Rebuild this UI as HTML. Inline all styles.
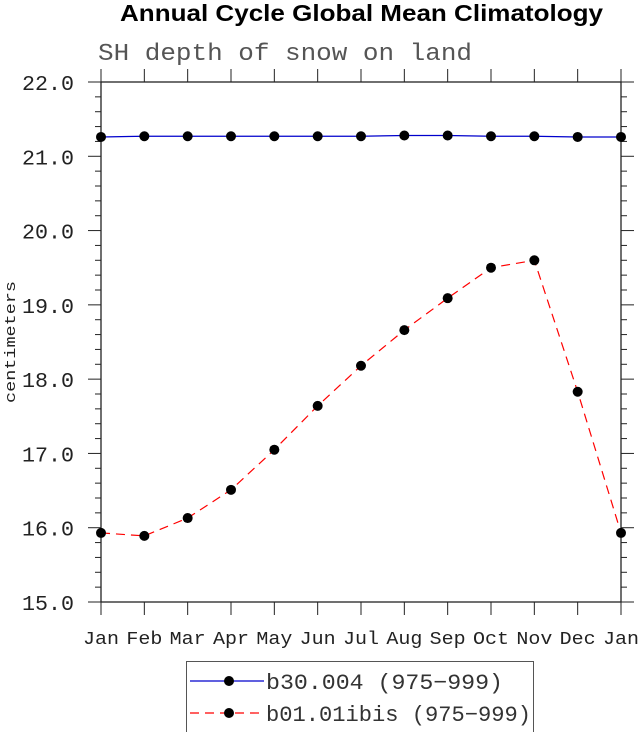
<!DOCTYPE html>
<html><head><meta charset="utf-8"><style>
body{margin:0;background:#fff;width:638px;height:732px;overflow:hidden}
svg text{font-family:"Liberation Mono",monospace;fill:#222}
</style></head><body>
<svg id="chart" width="638" height="732" xmlns="http://www.w3.org/2000/svg">
<text x="120" y="21" textLength="483" lengthAdjust="spacingAndGlyphs" style="font-family:'Liberation Sans',sans-serif;font-weight:bold;font-size:23px;fill:#000">Annual Cycle Global Mean Climatology</text>
<text x="98" y="60" textLength="374" lengthAdjust="spacingAndGlyphs" style="font-size:24px;fill:#555">SH depth of snow on land</text>
<text transform="translate(15,342) rotate(-90)" text-anchor="middle" textLength="122" lengthAdjust="spacingAndGlyphs" style="font-size:15px">centimeters</text>
<g id="axes"></g>
<g id="series"></g>
<g>
<rect x="186.5" y="661.5" width="347" height="75" fill="none" stroke="#555" stroke-width="1"/>
<line x1="190" y1="681" x2="264" y2="681" stroke="#00c" stroke-width="1.2"/>
<circle cx="229" cy="681" r="5" fill="#000"/>
<text x="266" y="689" textLength="237" lengthAdjust="spacingAndGlyphs" style="font-size:22px;fill:#333">b30.004 (975−999)</text>
<line x1="190" y1="713" x2="264" y2="713" stroke="#f00" stroke-width="1.2" stroke-dasharray="9,6"/>
<circle cx="229" cy="713" r="5" fill="#000"/>
<text x="266" y="721" textLength="265" lengthAdjust="spacingAndGlyphs" style="font-size:22px;fill:#333">b01.01ibis (975−999)</text>
</g>
</svg>
<script>
const months=["Jan","Feb","Mar","Apr","May","Jun","Jul","Aug","Sep","Oct","Nov","Dec","Jan"];
const b30=[21.26,21.27,21.27,21.27,21.27,21.27,21.27,21.28,21.28,21.27,21.27,21.26,21.26];
const b01=[15.93,15.89,16.13,16.51,17.05,17.64,18.18,18.66,19.09,19.50,19.60,17.83,15.93];
const yTicks=[15,16,17,18,19,20,21,22];
const NS="http://www.w3.org/2000/svg";
const L=101,R=621,T=82,B=602,yMin=15,yMax=22;
const xs=i=>L+(R-L)*i/(months.length-1);
const ys=v=>B-(v-yMin)/(yMax-yMin)*(B-T);
function mk(tag,a,p){const e=document.createElementNS(NS,tag);for(const k in a)e.setAttribute(k,a[k]);p.appendChild(e);return e;}
const ax=document.getElementById('axes'),se=document.getElementById('series');
const box=mk('rect',{x:L,y:T,width:R-L,height:B-T,fill:'none',stroke:'#222','stroke-width':1.3},ax);


months.forEach((m,i)=>{const x=xs(i);
mk('line',{x1:x,y1:B,x2:x,y2:B+13,stroke:'#222'},ax);
mk('line',{x1:x,y1:T,x2:x,y2:T-13,stroke:'#222'},ax);
const t=mk('text',{x:x,y:B+42,'text-anchor':'middle','font-size':18,textLength:36,lengthAdjust:'spacingAndGlyphs'},ax);t.textContent=m;

});
for(let v=yMin;v<=yMax+1e-9;v+=0.2){const y=ys(v);const maj=Math.abs(v-Math.round(v))<1e-6;const len=maj?13:6;
mk('line',{x1:L-len,y1:y,x2:L,y2:y,stroke:'#222'},ax);
mk('line',{x1:R,y1:y,x2:R+len,y2:y,stroke:'#222'},ax);}
yTicks.forEach(v=>{const t=mk('text',{x:22,y:ys(v)+8,'font-size':21,textLength:52,lengthAdjust:'spacingAndGlyphs'},ax);t.textContent=v.toFixed(1);

});
function series(d,color,dash,name){
const p=mk('polyline',{points:d.map((v,i)=>xs(i)+','+ys(v)).join(' '),fill:'none',stroke:color,'stroke-width':1.2,'stroke-dasharray':dash},se);


d.forEach((v,i)=>{const c=mk('circle',{cx:xs(i),cy:ys(v),r:5,fill:'#000'},se);

});}
series(b30,'#00c','none','b30');
series(b01,'#f00','9,6','b01');
</script>
</body></html>
